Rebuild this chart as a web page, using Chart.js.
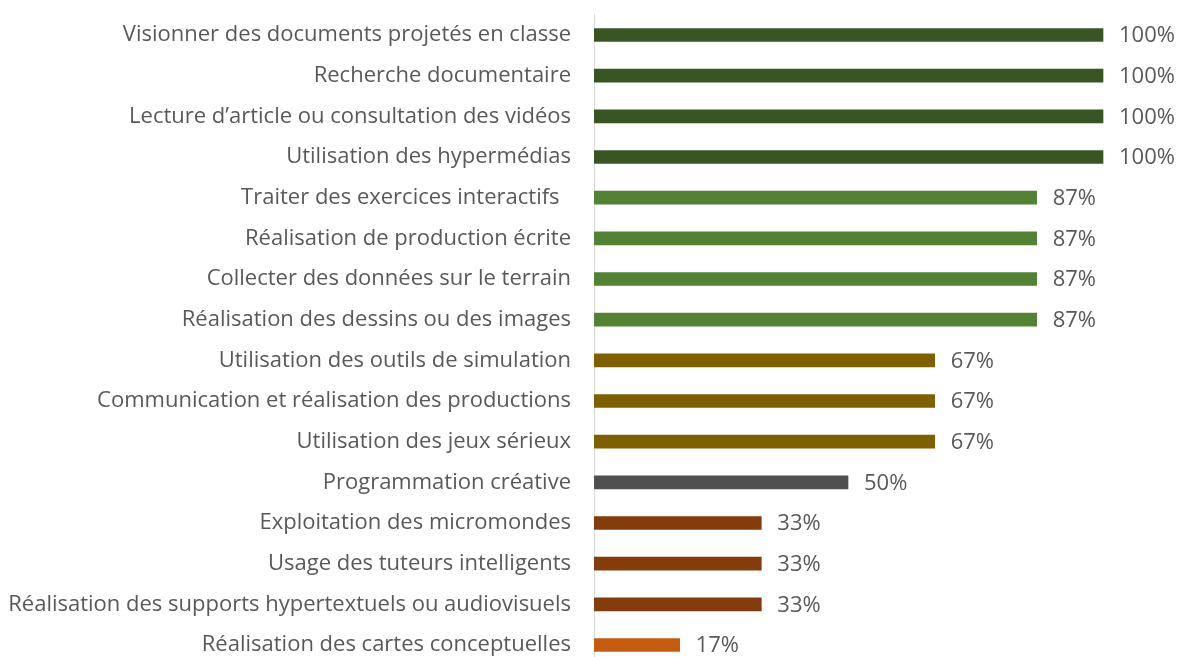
<!DOCTYPE html>
<html>
<head>
<meta charset="utf-8">
<script src="https://cdn.jsdelivr.net/npm/chart.js@4"></script>
<style>
  body { margin: 0; background: #fff; overflow: hidden; }
</style>
</head>
<body>
<canvas id="usageChart" width="1182" height="680"></canvas>
<script>
// Chart data
const categories = [
    'Visionner des documents projetés en classe',
    'Recherche documentaire',
    'Lecture d’article ou consultation des vidéos',
    'Utilisation des hypermédias',
    'Traiter des exercices interactifs  ',
    'Réalisation de production écrite',
    'Collecter des données sur le terrain',
    'Réalisation des dessins ou des images',
    'Utilisation des outils de simulation',
    'Communication et réalisation des productions',
    'Utilisation des jeux sérieux',
    'Programmation créative',
    'Exploitation des micromondes',
    'Usage des tuteurs intelligents',
    'Réalisation des supports hypertextuels ou audiovisuels',
    'Réalisation des cartes conceptuelles'
];
const percentages = [100, 100, 100, 100, 87, 87, 87, 87, 67, 67, 67, 50, 33, 33, 33, 17];
const barColors = [
    '#375623', '#375623', '#375623', '#375623',
    '#548235', '#548235', '#548235', '#548235',
    '#7F6000', '#7F6000', '#7F6000',
    '#505050',
    '#843C0C', '#843C0C', '#843C0C',
    '#C55A11'
];

const FONT = '"Open Sans", sans-serif';
const FONT_SIZE = 22;
const TEXT_COLOR = '#595959';

// Draws the value labels at the end of each bar
const valueLabels = {
    id: 'valueLabels',
    afterDatasetsDraw(chart) {
        const ctx = chart.ctx;
        const meta = chart.getDatasetMeta(0);
        ctx.save();
        ctx.font = FONT_SIZE + 'px ' + FONT;
        ctx.fillStyle = TEXT_COLOR;
        ctx.textAlign = 'left';
        ctx.textBaseline = 'middle';
        meta.data.forEach((bar, i) => {
            ctx.fillText(percentages[i] + '%', bar.x + 15, bar.y + 1);
        });
        ctx.restore();
    }
};

new Chart(document.getElementById('usageChart'), {
    type: 'bar',
    data: {
        labels: categories,
        datasets: [{
            data: percentages,
            backgroundColor: barColors,
            borderColor: 'rgba(255,255,255,0.45)',
            borderWidth: 1,
            barThickness: 15
        }]
    },
    options: {
        indexAxis: 'y',
        responsive: false,
        animation: false,
        layout: {
            padding: { top: 14.7, bottom: 14.7, left: 0, right: 78 }
        },
        plugins: {
            legend: { display: false },
            tooltip: { enabled: false }
        },
        scales: {
            x: {
                display: false,
                min: 0,
                max: 100
            },
            y: {
                grid: { display: false, drawTicks: false },
                border: { display: true, color: '#d9d9d9', width: 1 },
                ticks: {
                    color: TEXT_COLOR,
                    font: { family: FONT, size: FONT_SIZE },
                    padding: 23,
                    autoSkip: false
                },
                afterFit(scale) {
                    scale.width = 594;
                    scale.paddingTop = 0;
                    scale.paddingBottom = 0;
                }
            }
        }
    },
    plugins: [valueLabels]
});
</script>
</body>
</html>
